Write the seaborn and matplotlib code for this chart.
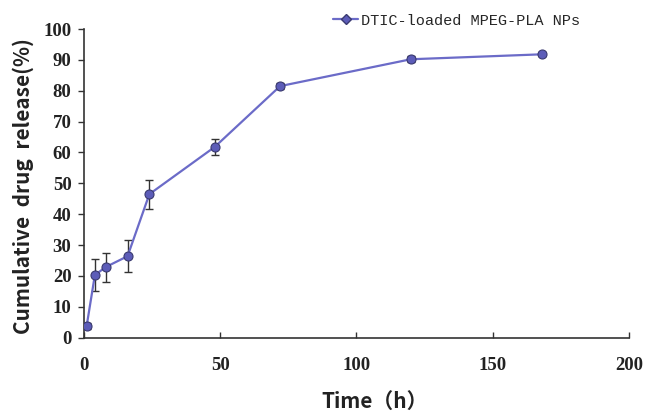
import matplotlib
matplotlib.use("Agg")
import matplotlib.pyplot as plt
import seaborn as sns
import pandas as pd
from matplotlib.lines import Line2D

time_h = [1, 4, 8, 16, 24, 48, 72, 120, 168]
release = [3.9, 20.3, 22.9, 26.4, 46.5, 61.8, 81.5, 90.2, 91.8]
err = [1.0, 5.3, 4.7, 5.1, 4.7, 2.7, 1.0, 1.0, 0.6]
series_name = "DTIC-loaded MPEG-PLA NPs"
x_ticks = [0, 50, 100, 150, 200]
y_ticks = [0, 10, 20, 30, 40, 50, 60, 70, 80, 90, 100]

df = pd.DataFrame({"Time": time_h, "Release": release, "Err": err, "Series": series_name})

sns.set_theme(style="white")
plt.rcParams['font.family'] = ['Liberation Serif', 'DejaVu Sans']

fig = plt.figure(figsize=(6.47, 4.12), dpi=100)
ax = fig.add_axes([0.1298, 0.1803, 0.842, 0.7493])

color = "#6B6BC8"
ax.errorbar(df["Time"], df["Release"], yerr=df["Err"], fmt="none",
            ecolor="#333333", elinewidth=1.0, capsize=3, capthick=1.0, zorder=2)
sns.lineplot(data=df, x="Time", y="Release", hue="Series", palette=[color],
             marker="o", markersize=6.5, markerfacecolor="#5C5CB8",
             markeredgecolor="#3A3A70", markeredgewidth=0.8, linewidth=1.6,
             ax=ax, zorder=3, legend=False)

ax.set_xlim(0, 200)
ax.set_ylim(0, 100)
ax.set_xticks(x_ticks)
ax.set_yticks(y_ticks)
ax.set_xticklabels([str(t) for t in x_ticks], fontsize=13.5, fontweight="bold", color="#222222")
ax.set_yticklabels([str(t) for t in y_ticks], fontsize=13.5, fontweight="bold", color="#222222")

for s in ["top", "right"]:
    ax.spines[s].set_visible(False)
for s in ["left", "bottom"]:
    ax.spines[s].set_color("#333333")
    ax.spines[s].set_linewidth(1.2)

ax.tick_params(axis="y", direction="out", length=4, width=1, color="#333333", left=True, pad=5)
ax.tick_params(axis="x", direction="in", length=4, width=1, color="#333333", bottom=True, pad=14)

ax.set_xlabel("Time（h）", fontsize=15, fontweight="bold",
              family=["Noto Sans CJK SC", "DejaVu Sans"], color="#222222")
ax.set_ylabel("Cumulative  drug  release(%)", fontsize=15, fontweight="bold",
              family=["Noto Sans CJK SC", "DejaVu Sans"], color="#222222")
ax.xaxis.set_label_coords(0.534, -0.206)
ax.xaxis.label.set_va("center")
ax.yaxis.set_label_coords(-0.112, 0.492)
ax.yaxis.label.set_va("center")

handle = Line2D([0], [0], color=color, marker="D", markersize=5,
                markerfacecolor="#5C5CB8", markeredgecolor="#3A3A70", linewidth=1.6)
fig.legend([handle], [series_name], loc="upper left", bbox_to_anchor=(0.494, 1.0),
           frameon=False, handlelength=1.6, handletextpad=0.2,
           prop={"family": "Liberation Mono", "size": 11})

fig.savefig("out.png", dpi=100)
